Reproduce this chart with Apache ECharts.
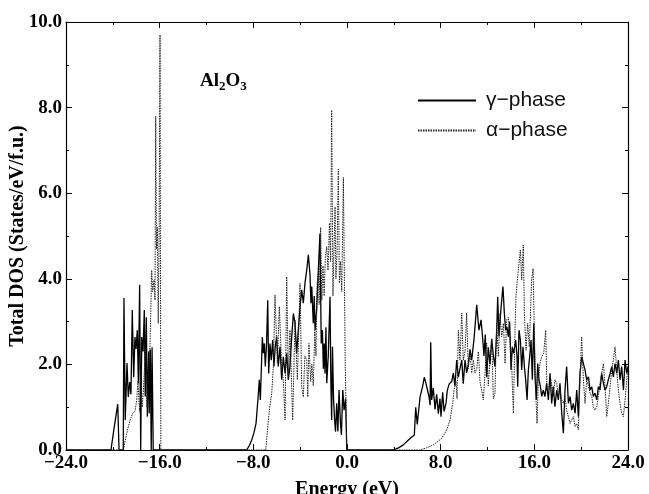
<!DOCTYPE html>
<html>
<head>
<meta charset="utf-8">
<script src="https://cdn.jsdelivr.net/npm/echarts@6/dist/echarts.min.js"></script>
<style>
  html, body { margin: 0; padding: 0; background: #fff; }
  #chart { width: 649px; height: 494px; }
</style>
</head>
<body>
<div id="chart"></div>
<script>
// tick labels along both axes
var energyTicks = [-24, -16, -8, 0, 8, 16, 24];
var dosTicks = [0, 2, 4, 6, 8, 10];
var seriesNames = ['\u03b3\u2212phase', '\u03b1\u2212phase'];

// gamma-phase, [energy (eV), DOS]
var gammaLow = [
	[-24, 0], [-20.16, 0], [-19.9, 0.5], [-19.58, 1.07], [-19.47, 0], [-19.11, 0], [-19.05, 3.55],
	[-18.94, 0.7], [-18.79, 2.03], [-18.68, 1.24], [-18.56, 1.59], [-18.45, 1.3], [-18.34, 3.27],
	[-18.22, 1.7], [-18.11, 2.64], [-18.02, 2.36], [-17.91, 2.8], [-17.82, 1.56], [-17.71, 3.86],
	[-17.62, 0], [-17.53, 2.64], [-17.42, 2.3], [-17.31, 3.27], [-17.23, 1.25], [-17.14, 3.1],
	[-17.05, 0.78], [-16.94, 2.3], [-16.89, 0.86], [-16.8, 2.35], [-16.72, 0], [-16.65, 2.4], [-16.55, 0]
];
var gammaMid = [
	[-8.57, 0], [-8.35, 0.1], [-8.14, 0.23], [-7.95, 0.4], [-7.77, 0.62], [-7.66, 1.0], [-7.57, 1.32],
	[-7.49, 1.64], [-7.4, 1.17], [-7.31, 1.95], [-7.23, 2.64], [-7.15, 2.26], [-7.06, 2.49], [-6.98, 1.95],
	[-6.87, 2.49], [-6.77, 3.5], [-6.69, 1.79], [-6.58, 2.49], [-6.47, 2.1], [-6.35, 2.57], [-6.24, 1.95],
	[-6.13, 2.41], [-6.01, 2.65], [-5.87, 1.95], [-5.72, 2.41], [-5.58, 1.64], [-5.44, 2.18], [-5.29, 1.79],
	[-5.15, 2.26], [-5.01, 1.64], [-4.87, 1.95], [-4.72, 2.65], [-4.58, 3.19], [-4.44, 2.96], [-4.3, 2.26],
	[-4.16, 2.8], [-4.01, 3.35], [-3.87, 3.74], [-3.73, 3.43], [-3.59, 3.9], [-3.44, 4.2], [-3.3, 4.56],
	[-3.16, 4.1], [-3.08, 3.43], [-3.01, 3.82], [-2.88, 2.96], [-2.8, 3.6], [-2.73, 2.8], [-2.59, 3.3],
	[-2.45, 4.2], [-2.31, 5.06], [-2.2, 2.49], [-2.1, 2.8], [-2.02, 1.9], [-1.95, 2.49], [-1.88, 1.79],
	[-1.8, 2.87], [-1.73, 1.56], [-1.6, 2.2], [-1.45, 3.58], [-1.38, 1.59], [-1.31, 0.7], [-1.24, 2.41],
	[-1.15, 1.2], [-1.06, 0.7], [-0.98, 0.43], [-0.88, 1.09], [-0.78, 0.43], [-0.68, 1.4], [-0.56, 0.63],
	[-0.48, 0.35], [-0.36, 1.4], [-0.25, 0.93], [-0.12, 1.2], [-0.02, 0]
];
var gammaHigh = [
	[3.9, 0], [4.4, 0.05], [4.81, 0.12], [5.38, 0.27], [5.75, 0.35], [5.87, 1.0], [6.0, 0.6], [6.24, 1.24],
	[6.47, 1.5], [6.6, 1.7], [6.75, 1.55], [6.9, 1.58], [7.0, 1.25], [7.1, 1.05], [7.15, 2.52], [7.23, 1.17],
	[7.37, 1.45], [7.52, 0.95], [7.66, 1.3], [7.8, 0.85], [7.94, 1.2], [8.03, 0.78], [8.17, 1.35], [8.29, 0.9],
	[8.46, 1.1], [8.57, 1.4], [8.74, 1.55], [8.94, 1.6], [9.08, 1.8], [9.22, 1.5], [9.37, 2.1], [9.51, 1.7],
	[9.65, 1.9], [9.8, 2.1], [9.93, 1.55], [10.08, 2.1], [10.22, 1.8], [10.36, 2.0], [10.51, 2.35],
	[10.65, 2.1], [10.85, 2.6], [11.08, 3.39], [11.27, 2.8], [11.45, 3.04], [11.59, 2.6], [11.7, 2.2],
	[11.81, 2.7], [11.93, 1.7], [12.07, 2.4], [12.21, 2.0], [12.36, 2.6], [12.5, 2.2], [12.64, 1.95],
	[12.79, 2.8], [12.87, 3.58], [12.98, 2.65], [13.15, 3.3], [13.32, 3.82], [13.44, 3.19], [13.55, 2.8],
	[13.66, 2.88], [13.78, 2.65], [13.89, 3.0], [14.01, 1.87], [14.12, 2.41], [14.24, 2.26], [14.41, 2.57],
	[14.52, 2.18], [14.58, 1.48], [14.69, 2.8], [14.81, 2.57], [14.92, 1.87], [15.03, 2.41], [15.15, 1.95],
	[15.26, 1.64], [15.38, 1.17], [15.49, 1.87], [15.6, 2.18], [15.72, 2.57], [15.83, 1.64], [15.95, 2.96],
	[16.06, 1.71], [16.17, 1.17], [16.29, 2.02], [16.4, 1.64], [16.52, 1.48], [16.63, 1.25], [16.77, 1.4],
	[16.91, 1.25], [17.05, 1.56], [17.2, 1.17], [17.34, 1.79], [17.48, 1.09], [17.62, 1.48], [17.76, 1.01],
	[17.91, 1.4], [18.05, 1.17], [18.19, 1.56], [18.34, 0.86], [18.48, 0.39], [18.62, 1.4], [18.76, 1.95],
	[18.91, 1.09], [19.05, 1.25], [19.19, 0.93], [19.33, 1.09], [19.48, 0.86], [19.62, 1.4], [19.76, 0.78],
	[19.9, 1.79], [20.05, 2.18], [20.19, 2.02], [20.33, 1.87], [20.47, 1.64], [20.62, 1.71], [20.76, 1.4],
	[20.9, 1.48], [21.04, 1.25], [21.18, 1.33], [21.33, 1.17], [21.47, 1.48], [21.61, 1.4], [21.75, 1.79],
	[21.9, 1.56], [22.04, 1.4], [22.18, 1.48], [22.32, 1.64], [22.47, 1.79], [22.61, 1.95], [22.75, 1.71],
	[22.89, 2.02], [23.04, 1.79], [23.18, 2.1], [23.32, 1.64], [23.46, 1.95], [23.61, 1.4], [23.75, 2.1],
	[23.89, 1.79], [24.0, 1.95]
];

// alpha-phase
var alphaLow = [
	[-24, 0], [-19.1, 0], [-18.82, 0.39], [-18.53, 0.7], [-18.3, 0.86], [-18.11, 0.9], [-17.97, 1.15],
	[-17.85, 1.6], [-17.72, 0.9], [-17.6, 1.9], [-17.5, 1.0], [-17.4, 1.33], [-17.28, 2.0], [-17.17, 2.34],
	[-17.08, 1.0], [-16.97, 1.87], [-16.83, 2.41], [-16.68, 4.2], [-16.6, 3.7], [-16.48, 3.97], [-16.4, 3.5],
	[-16.34, 7.8], [-16.27, 4.7], [-16.2, 5.2], [-16.12, 2.96], [-16.05, 4.9], [-15.97, 9.7], [-15.9, 0]
];
var alphaMid = [
	[-6.94, 0], [-6.72, 0.7], [-6.52, 1.17], [-6.43, 1.32], [-6.29, 1.95], [-6.15, 3.62], [-5.95, 2.03],
	[-5.78, 3.35], [-5.58, 1.95], [-5.44, 1.64], [-5.29, 0.7], [-5.15, 4.05], [-5.01, 1.64], [-4.87, 2.8],
	[-4.64, 0.7], [-4.44, 3.04], [-4.24, 1.64], [-4.01, 3.89], [-3.87, 1.48], [-3.73, 1.24], [-3.6, 2.2],
	[-3.44, 2.1], [-3.35, 1.24], [-3.25, 2.49], [-3.1, 1.6], [-3.0, 2.0], [-2.88, 1.5], [-2.75, 2.8],
	[-2.65, 2.2], [-2.55, 3.9], [-2.45, 4.13], [-2.38, 3.4], [-2.25, 5.2], [-2.15, 3.5], [-2.05, 4.3],
	[-1.95, 3.6], [-1.85, 4.5], [-1.73, 4.75], [-1.62, 4.2], [-1.5, 5.3], [-1.4, 4.4], [-1.31, 7.94],
	[-1.2, 3.6], [-1.1, 4.8], [-1.02, 5.68], [-0.95, 4.0], [-0.85, 4.6], [-0.74, 6.56], [-0.65, 3.9],
	[-0.55, 4.4], [-0.45, 3.7], [-0.31, 6.37], [-0.15, 2.0], [-0.02, 0]
];
var alphaHigh = [
	[6.2, 0], [6.8, 0.05], [7.37, 0.12], [8.09, 0.27], [8.52, 0.47], [8.8, 0.7], [9.03, 1.09], [9.14, 1.4],
	[9.31, 1.6], [9.4, 1.2], [9.51, 2.8], [9.65, 2.1], [9.8, 3.2], [9.93, 2.1], [10.08, 2.3], [10.22, 3.2],
	[10.36, 1.9], [10.51, 2.3], [10.65, 1.8], [10.79, 2.1], [10.93, 1.8], [11.08, 1.9], [11.22, 2.3],
	[11.36, 1.6], [11.5, 1.4], [11.64, 1.17], [11.79, 1.8], [11.93, 2.5], [12.07, 1.5], [12.21, 2.1],
	[12.36, 2.57], [12.5, 1.2], [12.64, 1.33], [12.78, 2.96], [12.93, 2.18], [13.07, 3.19], [13.21, 2.65],
	[13.36, 2.96], [13.5, 2.02], [13.64, 3.04], [13.78, 3.1], [13.92, 2.57], [14.06, 2.02], [14.21, 0.86],
	[14.35, 2.8], [14.43, 3.58], [14.55, 3.97], [14.69, 4.36], [14.81, 4.67], [14.92, 3.97], [15.06, 4.79],
	[15.15, 3.19], [15.29, 2.33], [15.43, 2.96], [15.57, 2.41], [15.77, 3.97], [15.89, 4.24], [16.0, 2.8],
	[16.11, 1.4], [16.23, 0.62], [16.34, 1.64], [16.48, 2.02], [16.63, 2.18], [16.8, 2.26], [16.97, 2.8],
	[17.08, 1.4], [17.25, 1.48], [17.42, 1.64], [17.62, 1.25], [17.76, 1.64], [17.91, 1.56], [18.05, 1.25],
	[18.19, 1.4], [18.34, 1.17], [18.48, 1.09], [18.62, 1.25], [18.76, 0.93], [18.91, 0.78], [19.05, 0.62],
	[19.19, 0.7], [19.33, 0.78], [19.48, 0.55], [19.62, 0.62], [19.76, 0.47], [19.9, 1.64], [20.04, 2.65],
	[20.19, 1.64], [20.33, 1.09], [20.47, 1.64], [20.62, 1.48], [20.76, 1.33], [20.9, 1.25], [21.04, 1.01],
	[21.18, 0.93], [21.33, 1.01], [21.47, 1.25], [21.61, 1.56], [21.75, 1.79], [21.9, 2.02], [22.04, 1.48],
	[22.18, 0.78], [22.32, 1.09], [22.47, 1.48], [22.61, 1.87], [22.75, 2.1], [22.89, 2.41], [23.04, 1.87],
	[23.18, 1.4], [23.32, 1.09], [23.46, 0.86], [23.6, 0.78], [23.75, 1.17], [23.89, 1.64], [24.0, 1.95]
];

var serif = '"Liberation Serif", "DejaVu Serif", serif';
var sans = '"Liberation Sans", Arial, sans-serif';

function fmt(v) {
	var s = Math.abs(v).toFixed(1);
	return v < 0 ? '\u2212' + s : s;
}

function frameAxis(pos, min, max, interval) {
	return {
		type: 'value',
		position: pos,
		min: min, max: max, interval: interval,
		axisLine: { show: true, onZero: false, lineStyle: { color: '#000', width: 1.2 } },
		axisTick: { show: true, inside: true, length: 6, lineStyle: { color: '#000' } },
		minorTick: { show: true, splitNumber: 2, length: 3, lineStyle: { color: '#000' } },
		axisLabel: { show: false },
		splitLine: { show: false }
	};
}

var chart = echarts.init(document.getElementById('chart'), null, { renderer: 'canvas' });

var xMain = frameAxis('bottom', energyTicks[0], energyTicks[energyTicks.length - 1], 8);
xMain.axisLabel = {
	show: true, margin: 4, color: '#000', fontFamily: serif, fontWeight: 'bold', fontSize: 19,
	formatter: fmt
};
xMain.name = 'Energy (eV)';
xMain.nameLocation = 'middle';
xMain.nameGap = 30;
xMain.nameMoveOverlap = false;
xMain.nameTextStyle = { color: '#000', fontFamily: serif, fontWeight: 'bold', fontSize: 20 };

var yMain = frameAxis('left', dosTicks[0], dosTicks[dosTicks.length - 1], 2);
yMain.axisLabel = {
	show: true, margin: 4, color: '#000', fontFamily: serif, fontWeight: 'bold', fontSize: 19,
	formatter: fmt
};
yMain.name = 'Total DOS (States/eV/f.u.)';
yMain.nameLocation = 'middle';
yMain.nameGap = 38;
yMain.nameMoveOverlap = false;
yMain.nameTextStyle = { color: '#000', fontFamily: serif, fontWeight: 'bold', fontSize: 20 };

var gammaLine = { color: '#000', width: 1.3, type: 'solid' };
var alphaLine = { color: '#222', width: 1, type: [1.5, 1] };

chart.setOption({
	animation: false,
	backgroundColor: '#fff',
	grid: { left: 66, right: 21, top: 22, bottom: 44, containLabel: false, outerBoundsMode: 'none' },
	xAxis: [xMain, frameAxis('top', -24, 24, 8)],
	yAxis: [yMain, frameAxis('right', 0, 10, 2)],
	legend: {
		show: true,
		orient: 'vertical',
		left: 412, top: 85,
		itemWidth: 58, itemHeight: 14, itemGap: 9,
		itemStyle: { opacity: 0 },
		textStyle: { fontFamily: sans, fontSize: 21, color: '#111', padding: [0, 0, 0, 5] },
		data: seriesNames
	},
	graphic: [{
		type: 'text',
		left: 200, top: 72,
		style: {
			text: 'Al{s|2}O{s|3}',
			font: 'bold 19px ' + serif,
			fill: '#000',
			rich: {
				s: { fontFamily: serif, fontWeight: 'bold', fontSize: 13, padding: [10, 0, 0, 0] }
			}
		}
	}],
	series: [{
		name: seriesNames[0],
		type: 'line',
		symbol: 'none',
		showSymbol: false,
		data: gammaLow.concat(gammaMid, gammaHigh),
		lineStyle: gammaLine,
		itemStyle: { color: '#000' }
	}, {
		name: seriesNames[1],
		type: 'line',
		symbol: 'none',
		showSymbol: false,
		data: alphaLow.concat(alphaMid, alphaHigh),
		lineStyle: alphaLine,
		itemStyle: { color: '#222' }
	}]
});
</script>
</body>
</html>
